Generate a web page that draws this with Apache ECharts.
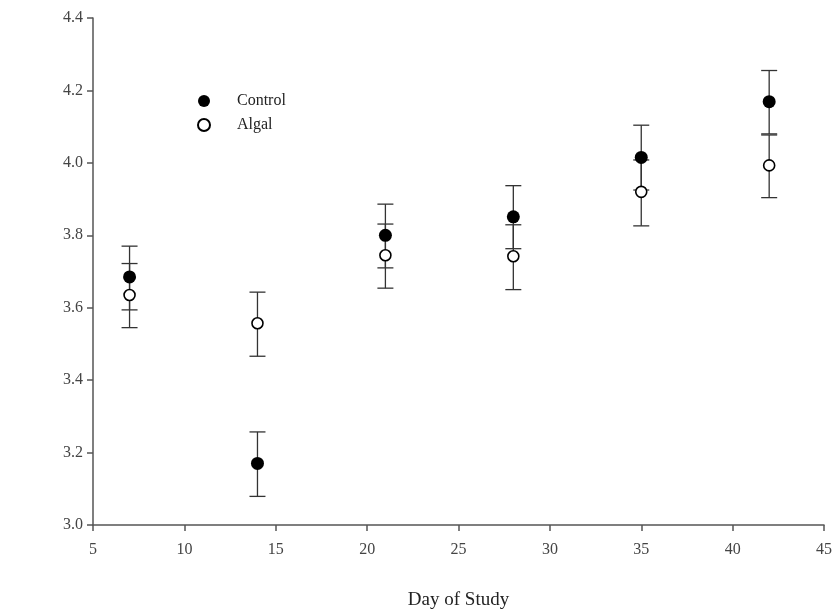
<!DOCTYPE html>
<html>
<head>
<meta charset="utf-8">
<script src="https://cdn.jsdelivr.net/npm/echarts@6/dist/echarts.min.js"></script>
<style>
  html, body { margin: 0; padding: 0; background: #fff; }
  #chart { width: 838px; height: 616px; }
</style>
</head>
<body>
<div id="chart"></div>
<script>
// values
var days = [7, 14, 21, 28, 35, 42];
var controlMean = [3.685, 3.170, 3.800, 3.851, 4.015, 4.169];
var controlHigh = [3.770, 3.257, 3.886, 3.937, 4.104, 4.255];
var controlLow = [3.594, 3.079, 3.710, 3.763, 3.925, 4.080];
var algalMean = [3.635, 3.557, 3.745, 3.742, 3.920, 3.993];
var algalHigh = [3.722, 3.643, 3.831, 3.829, 4.008, 4.077];
var algalLow = [3.545, 3.466, 3.654, 3.650, 3.826, 3.904];
var xTicks = [5, 10, 15, 20, 25, 30, 35, 40, 45];

var font = "Liberation Serif";
var axisColor = "#555";

function pairs(xs, ys) {
  return xs.map(function (x, i) { return [x, ys[i]]; });
}
function errRows(xs, lo, hi) {
  return xs.map(function (x, i) { return [x, lo[i], hi[i]]; });
}

// draws one error bar with caps
function errorBar(params, api) {
  var x = api.value(0);
  var lo = api.coord([x, api.value(1)]);
  var hi = api.coord([x, api.value(2)]);
  var half = 8;
  var style = { stroke: "#333", lineWidth: 1.3, fill: null };
  return {
    type: "group",
    children: [
      { type: "line", shape: { x1: lo[0], y1: lo[1], x2: hi[0], y2: hi[1] }, style: style },
      { type: "line", shape: { x1: hi[0] - half, y1: hi[1], x2: hi[0] + half, y2: hi[1] }, style: style },
      { type: "line", shape: { x1: lo[0] - half, y1: lo[1], x2: lo[0] + half, y2: lo[1] }, style: style }
    ]
  };
}

var chart = echarts.init(document.getElementById("chart"));
var option = {
  animation: false,
  grid: { left: 93, right: 14, top: 18, bottom: 91, containLabel: false },
  legend: {
    orient: "vertical",
    left: 192,
    top: 88,
    itemGap: 8,
    itemWidth: 12,
    itemHeight: 12,
    data: ["Control", "Algal"],
    textStyle: { fontFamily: font, fontSize: 16, color: "#222", padding: [0, 0, 0, 22] }
  },
  xAxis: {
    type: "value",
    min: 5,
    max: 45,
    interval: 5,
    name: "Day of Study",
    nameLocation: "middle",
    nameGap: 66,
    nameTextStyle: { fontFamily: font, fontSize: 19, color: "#222" },
    axisLine: { show: true, lineStyle: { color: axisColor, width: 1.5 } },
    axisTick: { show: true, length: 6, lineStyle: { color: axisColor, width: 1.5 } },
    axisLabel: {
      fontFamily: font, fontSize: 16, color: "#444", margin: 17,
      formatter: function (v) { return xTicks.indexOf(v) >= 0 ? String(v) : ""; }
    },
    splitLine: { show: false }
  },
  yAxis: {
    type: "value",
    min: 3.0,
    max: 4.4,
    interval: 0.2,
    axisLine: { show: true, lineStyle: { color: axisColor, width: 1.5 } },
    axisTick: { show: true, length: 6, lineStyle: { color: axisColor, width: 1.5 } },
    axisLabel: {
      fontFamily: font, fontSize: 16, color: "#444", margin: 10,
      formatter: function (v) { return v.toFixed(1); }
    },
    splitLine: { show: false }
  },
  series: [
    {
      type: "custom",
      name: "controlErr",
      renderItem: errorBar,
      data: errRows(days, controlLow, controlHigh),
      z: 1
    },
    {
      type: "custom",
      name: "algalErr",
      renderItem: errorBar,
      data: errRows(days, algalLow, algalHigh),
      z: 1
    },
    {
      type: "scatter",
      name: "Control",
      symbol: "circle",
      symbolSize: 13,
      itemStyle: { color: "#000", opacity: 1 },
      data: pairs(days, controlMean),
      z: 3
    },
    {
      type: "scatter",
      name: "Algal",
      symbol: "circle",
      symbolSize: 11,
      itemStyle: { color: "#fff", borderColor: "#000", borderWidth: 1.6, opacity: 1 },
      data: pairs(days, algalMean),
      z: 4
    }
  ]
};
chart.setOption(option);
</script>
</body>
</html>
